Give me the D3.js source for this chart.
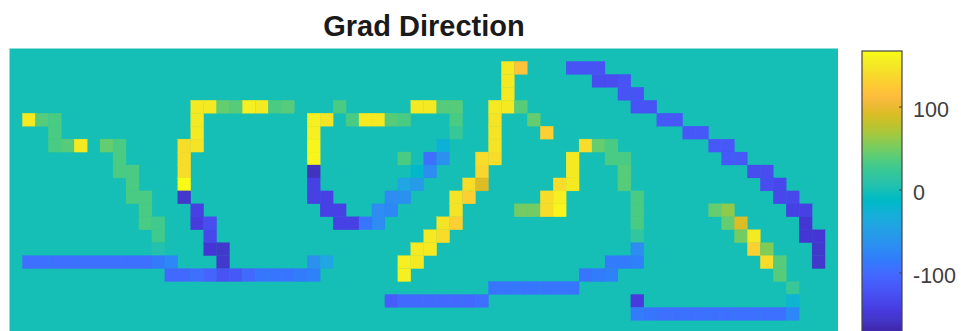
<!DOCTYPE html>
<html><head><meta charset="utf-8">
<script src="https://cdn.jsdelivr.net/npm/d3@7"></script>
<style>html,body{margin:0;padding:0;background:#fff}svg{display:block}text{font-family:"Liberation Sans",Arial,sans-serif}</style>
</head><body><div id="chart"></div>
<script>
const title = "Grad Direction";
const colCount = 64, rowCount = 22;
const colorTicks = [100, 0, -100];
const colorDomain = [-172, 167];
// parula colormap
const parula = ["#3e26a8","#402aB4","#4231c0","#4338cb","#4536d5","#463bde","#4741e5","#4747eb","#484df0","#4752f4","#4758f8","#465dfb","#4463fd","#4269fe","#3e6fff","#3875fe","#327bfc","#2f81f9","#2d87f7","#2d8cf3","#2b91ef","#2796eb","#259be7","#23a0e5","#20a5e3","#1ca9df","#18addb","#11b1d6","#08b5d0","#01b8ca","#02bac3","#0bbdbc","#19bfb5","#24c1ae","#2cc3a7","#31c69f","#37c897","#3fca8e","#4acb84","#57cc7a","#64cd6f","#72cc64","#80cc59","#8fca4e","#9dc942","#acc739","#b9c431","#c5c22a","#d1bf27","#dcbd28","#e6bb2d","#efba35","#f8ba3d","#febe3c","#fec338","#fec934","#fccf30","#f9d62d","#f7dc2a","#f5e327","#f5e924","#f6ef20","#f7f51b","#f9fb15"];
// sparse gradient direction values: [row, col, degrees]
const strokeTop = [[1,38,150],[1,39,118],[2,38,150],[3,38,150],[4,37,148],[4,38,150],[4,39,38],[5,37,145],[5,40,45],[6,37,145],[6,41,128],[7,37,143],[8,36,140],[8,37,138],[9,36,135],[10,35,140],[10,36,88],[11,34,145],[11,35,125],[12,34,145],[13,33,145],[13,34,128],[14,32,148],[14,33,140],[15,31,150],[15,32,148],[16,30,152],[16,31,150],[17,30,155]];
const arcRight = [[1,43,-120],[1,44,-120],[1,45,-123],[2,45,-125],[2,46,-125],[2,47,-123],[3,47,-123],[3,48,-120],[4,48,-120],[4,49,-120],[5,50,-116],[5,51,-116],[6,52,-116],[6,53,-116],[7,54,-118],[7,55,-118],[8,55,-118],[8,56,-118],[9,57,-125],[9,58,-127],[10,58,-127],[10,59,-130],[11,59,-132],[11,60,-132],[12,60,-135],[12,61,-138],[13,61,-150],[14,61,-148],[14,62,-150],[15,62,-155],[16,62,-155]];
const strokeLeft = [[5,1,150],[5,2,35],[5,3,33],[6,3,32],[7,3,32],[7,4,35],[7,5,150],[7,7,40],[7,8,32],[8,8,32],[9,8,30],[9,9,30],[10,9,30],[11,9,30],[11,10,30],[12,10,30],[13,10,30],[13,11,28],[14,11,28],[15,11,3]];
const strokeSecond = [[4,14,150],[4,15,150],[4,16,40],[4,17,35],[4,18,152],[4,19,150],[4,20,33],[4,21,35],[5,14,148],[6,14,148],[7,13,140],[7,14,145],[8,13,138],[9,13,138],[10,13,165],[11,13,-155],[12,14,-140],[13,14,-142],[13,15,-125],[14,15,-130],[15,15,-150],[15,16,-155],[16,16,-155]];
const strokeLoop = [[4,25,33],[4,31,150],[4,32,150],[4,33,35],[4,34,35],[5,23,155],[5,24,145],[5,26,32],[5,27,150],[5,28,150],[5,29,35],[5,30,33],[5,34,30],[6,23,155],[6,34,22],[7,23,158],[7,33,-25],[8,23,160],[8,30,33],[8,32,-95],[8,33,-65],[9,23,-160],[9,31,-15],[9,32,-70],[10,23,-140],[10,30,-40],[10,31,-55],[11,23,-140],[11,24,-140],[11,29,-70],[11,30,-65],[12,24,-140],[12,25,-140],[12,28,-70],[12,29,-75],[13,25,-140],[13,26,-135],[13,27,-90],[13,28,-70]];
const strokeHump = [[7,44,140],[7,45,40],[7,46,32],[8,43,148],[8,46,32],[8,47,32],[9,43,148],[9,47,35],[10,42,140],[10,43,148],[10,47,35],[11,41,138],[11,42,155],[11,48,30],[12,39,50],[12,40,48],[12,41,140],[12,42,160],[12,48,30],[13,48,30],[14,48,15],[15,48,-70],[16,46,-85],[16,47,-85],[16,48,-80],[17,44,-90],[17,45,-85],[17,46,-80]];
const strokeDiag = [[12,54,42],[12,55,60],[13,55,45],[13,56,90],[14,56,50],[14,57,150],[15,57,128],[15,58,55],[16,58,140],[16,59,38],[17,59,35],[18,60,20],[19,60,-20],[19,48,-145]];
const baseA = [[16,1,-95],[16,2,-95],[16,3,-95],[16,4,-95],[16,5,-95],[16,6,-95],[16,7,-95],[16,8,-95],[16,9,-95],[16,10,-95],[16,11,-85],[16,12,-72],[17,12,-100],[17,13,-100],[17,14,-95],[17,15,-105],[17,16,-122],[17,17,-118],[17,18,-100],[17,19,-88],[17,20,-88],[17,21,-88],[17,22,-85],[17,23,-80],[16,23,-65],[16,24,-40]];
const baseB = [[19,29,-112],[19,30,-98],[19,31,-98],[19,32,-98],[19,33,-98],[19,34,-98],[19,35,-98],[19,36,-94],[18,37,-92],[18,38,-92],[18,39,-92],[18,40,-92],[18,41,-92],[18,42,-92],[18,43,-92]];
const baseC = [[20,48,-85],[20,49,-92],[20,50,-95],[20,51,-95],[20,52,-95],[20,53,-95],[20,54,-95],[20,55,-95],[20,56,-95],[20,57,-95],[20,58,-95],[20,59,-95],[20,60,-75]];

const W = 961, H = 331;
const plot = {left: 9.5, right: 838, top: 48.5};
const cell = (plot.right - plot.left) / colCount;
const x = d3.scaleBand().domain(d3.range(colCount)).range([plot.left, plot.right]);
const y = d3.scaleBand().domain(d3.range(rowCount)).range([plot.top, plot.top + cell * rowCount]);
const color = d3.scaleQuantize().domain(colorDomain).range(parula);

const grid = new Map();
[strokeTop, arcRight, strokeLeft, strokeSecond, strokeLoop, strokeHump, strokeDiag, baseA, baseB, baseC]
  .forEach(s => s.forEach(([r, c, v]) => grid.set(r + "," + c, v)));
const cells = d3.cross(d3.range(rowCount), d3.range(colCount), (r, c) => ({r, c, v: grid.get(r + "," + c) || 0}));

const svg = d3.select("#chart").append("svg").attr("width", W).attr("height", H);
const defs = svg.append("defs");
defs.append("filter").attr("id", "soft").attr("x", "-2%").attr("y", "-2%").attr("width", "104%").attr("height", "104%")
  .append("feGaussianBlur").attr("stdDeviation", 0.6);

const heat = svg.append("g").attr("filter", "url(#soft)");
heat.append("rect").attr("x", plot.left).attr("y", plot.top)
  .attr("width", plot.right - plot.left).attr("height", cell * rowCount).attr("fill", color(0));
heat.selectAll("rect.cell").data(cells.filter(d => d.v !== 0)).join("rect").attr("class", "cell")
  .attr("x", d => x(d.c)).attr("y", d => y(d.r))
  .attr("width", x.bandwidth()).attr("height", y.bandwidth())
  .attr("fill", d => color(d.v)).attr("stroke", d => color(d.v)).attr("stroke-width", 0.3);

svg.append("text").attr("x", 424).attr("y", 36).attr("text-anchor", "middle")
  .attr("font-weight", "bold").attr("font-size", 29).attr("fill", "#1a1a1a").text(title);

// colorbar
const cb = {left: 862, right: 902, top: 51};
const cScale = d3.scaleLinear().domain([colorDomain[1], 0]).range([cb.top, 189.5]);
const cbBottom = cScale(colorDomain[0]);
const grad = defs.append("linearGradient").attr("id", "cbar").attr("x1", 0).attr("x2", 0).attr("y1", 1).attr("y2", 0);
parula.forEach((c, i) => grad.append("stop").attr("offset", i / (parula.length - 1)).attr("stop-color", c));
svg.append("rect").attr("x", cb.left).attr("y", cb.top).attr("width", cb.right - cb.left)
  .attr("height", cbBottom - cb.top).attr("fill", "url(#cbar)").attr("stroke", "#444").attr("stroke-width", 1.2);
const axis = d3.axisRight(cScale).tickValues(colorTicks).tickSize(0).tickPadding(11).tickFormat(d => String(d));
const ag = svg.append("g").attr("transform", `translate(${cb.right},0)`).call(axis);
ag.select(".domain").remove();
ag.selectAll("line").attr("x1", -3).attr("x2", 0).attr("stroke", "#444");
ag.selectAll("text").attr("font-size", 21.5).attr("font-family", "Liberation Sans").attr("fill", "#404040").attr("dy", "0.47em");
</script></body></html>
